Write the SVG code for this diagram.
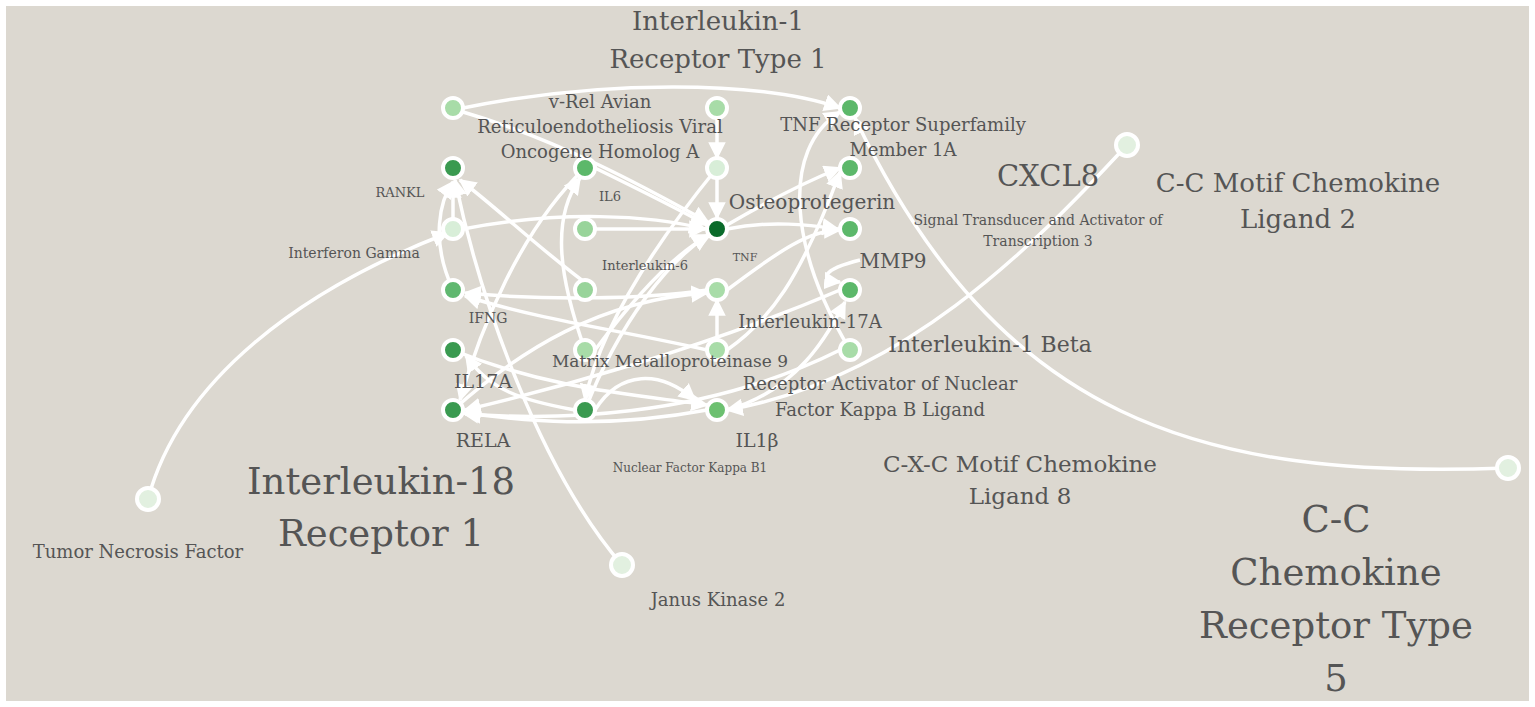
<svg xmlns="http://www.w3.org/2000/svg" width="1535" height="707" viewBox="0 0 1535 707">
<defs>
<marker id="ar" viewBox="0 0 10 10" refX="9" refY="5" markerWidth="5" markerHeight="5" orient="auto"><path d="M0,0L10,5L0,10z" fill="#fff"/></marker>
<style>
.e{fill:none;stroke:#fff;stroke-width:3.5;marker-end:url(#ar)}
.n{stroke:#fff;stroke-width:4}
text{font-family:"DejaVu Serif",serif;fill:#555}
</style>
</defs>
<rect x="0" y="0" width="1535" height="707" fill="#fff"/>
<rect x="6" y="6" width="1523" height="695" fill="#dcd8d0"/>
<g id="connectors">
<path class="e" d="M148,499 C180,380 300,290 448,233"/>
<path class="e" d="M1127,145 C1030,250 900,380 727,410"/>
<path class="e" d="M1508,468 C1200,480 1000,420 855,118"/>
<path class="e" d="M622,565 C540,470 480,300 455,180"/>
<path class="e" d="M463,108 C600,80 760,80 840,108"/>
<path class="e" d="M463,112 C560,140 650,190 708,222"/>
<path class="e" d="M463,229 C560,210 650,215 705,229"/>
<path class="e" d="M595,168 C640,190 680,210 707,225"/>
<path class="e" d="M595,229 C640,229 680,229 705,229"/>
<path class="e" d="M717,168 L717,218"/>
<path class="e" d="M717,108 L717,158"/>
<path class="e" d="M727,229 C770,220 810,225 838,229"/>
<path class="e" d="M727,225 C770,200 810,180 840,168"/>
<path class="e" d="M453,229 L453,182"/>
<path class="e" d="M595,290 C540,250 500,210 460,180"/>
<path class="e" d="M585,350 C560,280 550,220 580,178"/>
<path class="e" d="M595,350 C640,290 680,250 710,235"/>
<path class="e" d="M585,410 C620,320 670,260 708,235"/>
<path class="e" d="M707,290 C640,300 540,300 465,293"/>
<path class="e" d="M707,350 C620,330 540,320 465,296"/>
<path class="e" d="M707,410 C600,430 520,420 463,413"/>
<path class="e" d="M840,290 C700,350 550,390 465,410"/>
<path class="e" d="M840,350 C700,420 550,420 465,414"/>
<path class="e" d="M595,410 C620,370 660,370 695,400"/>
<path class="e" d="M453,350 C550,390 640,395 707,405"/>
<path class="e" d="M575,410 C520,400 490,390 466,356"/>
<path class="e" d="M727,410 C800,390 830,330 845,302"/>
<path class="e" d="M727,290 C780,250 810,230 840,230"/>
<path class="e" d="M850,350 C790,250 780,150 840,112"/>
<path class="e" d="M727,350 C770,320 800,280 840,172"/>
<path class="e" d="M453,290 C430,240 440,200 453,182"/>
<path class="e" d="M585,168 C520,230 480,330 460,400"/>
<path class="e" d="M717,168 C650,250 600,330 585,400"/>
<path class="e" d="M453,410 C520,350 600,300 707,293"/>
<path class="e" d="M717,350 L717,300"/>
<path class="e" d="M860,260 C820,270 820,280 840,282"/>
</g>
<g id="nodes">
<circle id="n1" class="n" cx="453" cy="108" r="10" fill="#a8dca8"/>
<circle id="n2" class="n" cx="453" cy="168" r="10" fill="#3a9a50"/>
<circle id="n3" class="n" cx="453" cy="229" r="10" fill="#d8eed8"/>
<circle id="n4" class="n" cx="453" cy="290" r="10" fill="#60b870"/>
<circle id="n5" class="n" cx="453" cy="350" r="10" fill="#3a9a50"/>
<circle id="n6" class="n" cx="453" cy="410" r="10" fill="#3a9a50"/>
<circle id="n7" class="n" cx="585" cy="168" r="10" fill="#5cb86a"/>
<circle id="n8" class="n" cx="585" cy="229" r="10" fill="#98d49a"/>
<circle id="n9" class="n" cx="585" cy="290" r="10" fill="#98d49a"/>
<circle id="n10" class="n" cx="585" cy="350" r="10" fill="#a8dca8"/>
<circle id="n11" class="n" cx="585" cy="410" r="10" fill="#3a9a50"/>
<circle id="n12" class="n" cx="717" cy="108" r="10" fill="#a8dca8"/>
<circle id="n13" class="n" cx="717" cy="168" r="10" fill="#d8eed8"/>
<circle id="n14" class="n" cx="717" cy="229" r="10" fill="#0a6a2a"/>
<circle id="n15" class="n" cx="717" cy="290" r="10" fill="#a8dca8"/>
<circle id="n16" class="n" cx="717" cy="350" r="10" fill="#a8dca8"/>
<circle id="n17" class="n" cx="717" cy="410" r="10" fill="#6cc070"/>
<circle id="n18" class="n" cx="850" cy="108" r="10" fill="#5cb86a"/>
<circle id="n19" class="n" cx="850" cy="168" r="10" fill="#5cb86a"/>
<circle id="n20" class="n" cx="850" cy="229" r="10" fill="#5cb86a"/>
<circle id="n21" class="n" cx="850" cy="290" r="10" fill="#5cb86a"/>
<circle id="n22" class="n" cx="850" cy="350" r="10" fill="#a8dca8"/>
<circle id="n23" class="n" cx="1127" cy="145" r="11" fill="#e2f0e0"/>
<circle id="n24" class="n" cx="1508" cy="468" r="11" fill="#e2f0e0"/>
<circle id="n25" class="n" cx="148" cy="499" r="11" fill="#e2f0e0"/>
<circle id="n26" class="n" cx="622" cy="565" r="11" fill="#e2f0e0"/>
</g>
<g id="labels">
<text x="718" y="30" font-size="26" text-anchor="middle">Interleukin-1</text>
<text x="718" y="68" font-size="26" text-anchor="middle">Receptor Type 1</text>
<text x="600" y="108" font-size="18" text-anchor="middle">v-Rel Avian</text>
<text x="600" y="133" font-size="18" text-anchor="middle">Reticuloendotheliosis Viral</text>
<text x="600" y="158" font-size="18" text-anchor="middle">Oncogene Homolog A</text>
<text x="903" y="131" font-size="18" text-anchor="middle">TNF Receptor Superfamily</text>
<text x="903" y="156" font-size="18" text-anchor="middle">Member 1A</text>
<text x="400" y="197" font-size="13" text-anchor="middle">RANKL</text>
<text x="610" y="201" font-size="13" text-anchor="middle">IL6</text>
<text x="812" y="209" font-size="20" text-anchor="middle">Osteoprotegerin</text>
<text x="1048" y="186" font-size="29" text-anchor="middle">CXCL8</text>
<text x="1298" y="192" font-size="26" text-anchor="middle">C-C Motif Chemokine</text>
<text x="1298" y="228" font-size="26" text-anchor="middle">Ligand 2</text>
<text x="1038" y="225" font-size="14" text-anchor="middle">Signal Transducer and Activator of</text>
<text x="1038" y="246" font-size="14" text-anchor="middle">Transcription 3</text>
<text x="354" y="258" font-size="14" text-anchor="middle">Interferon Gamma</text>
<text x="645" y="270" font-size="13" text-anchor="middle">Interleukin-6</text>
<text x="745" y="261" font-size="11" text-anchor="middle">TNF</text>
<text x="893" y="268" font-size="20" text-anchor="middle">MMP9</text>
<text x="488" y="323" font-size="14" text-anchor="middle">IFNG</text>
<text x="810" y="328" font-size="18" text-anchor="middle">Interleukin-17A</text>
<text x="990" y="352" font-size="22" text-anchor="middle">Interleukin-1 Beta</text>
<text x="670" y="367" font-size="17" text-anchor="middle">Matrix Metalloproteinase 9</text>
<text x="483" y="388" font-size="19" text-anchor="middle">IL17A</text>
<text x="880" y="390" font-size="18" text-anchor="middle">Receptor Activator of Nuclear</text>
<text x="880" y="416" font-size="18" text-anchor="middle">Factor Kappa B Ligand</text>
<text x="483" y="447" font-size="19" text-anchor="middle">RELA</text>
<text x="757" y="447" font-size="19" text-anchor="middle">IL1β</text>
<text x="690" y="472" font-size="12" text-anchor="middle">Nuclear Factor Kappa B1</text>
<text x="1020" y="472" font-size="23" text-anchor="middle">C-X-C Motif Chemokine</text>
<text x="1020" y="504" font-size="23" text-anchor="middle">Ligand 8</text>
<text x="381" y="494" font-size="37" text-anchor="middle">Interleukin-18</text>
<text x="381" y="546" font-size="37" text-anchor="middle">Receptor 1</text>
<text x="138" y="558" font-size="18" text-anchor="middle">Tumor Necrosis Factor</text>
<text x="718" y="606" font-size="18" text-anchor="middle">Janus Kinase 2</text>
<text x="1336" y="532" font-size="37" text-anchor="middle">C-C</text>
<text x="1336" y="585" font-size="37" text-anchor="middle">Chemokine</text>
<text x="1336" y="638" font-size="37" text-anchor="middle">Receptor Type</text>
<text x="1336" y="691" font-size="37" text-anchor="middle">5</text>
</g>
</svg>
